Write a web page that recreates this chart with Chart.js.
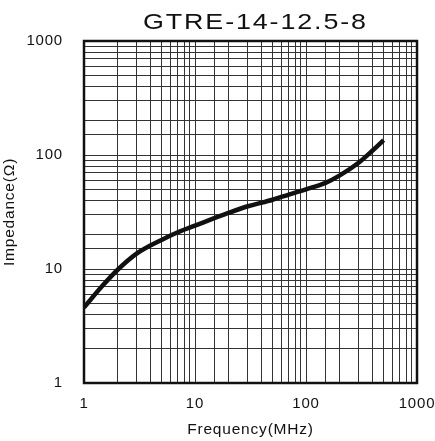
<!DOCTYPE html>
<html>
<head>
<meta charset="utf-8">
<script src="https://cdn.jsdelivr.net/npm/chart.js@4"></script>
<style>
  html, body { margin: 0; padding: 0; background: #fff; }
  #wrap { width: 435px; height: 441px; }
</style>
</head>
<body>
<div id="wrap"><canvas id="impChart"></canvas></div>
<script>
    const frequency = [1, 1.5, 2, 3, 5, 7, 10, 20, 30, 50, 70, 100, 150, 200, 300, 400, 500];
    const impedance = [4.6, 7.3, 9.8, 13.7, 18, 21, 24, 31, 35.5, 40.5, 45, 50, 57, 66, 86, 110, 135];
    const tickLabels = [1, 10, 100, 1000];
    const chartTitle = "GTRE-14-12.5-8";

    const points = frequency.map((f, i) => ({ x: f, y: impedance[i] }));
    const font = "'Liberation Sans', Arial, sans-serif";

    function decadeOnly(value) {
        return tickLabels.includes(Number(value)) ? String(value) : "";
    }

    // frame, wide title and a little letter spacing on the labels
    const frameBox = {
        id: "frameBox",
        beforeDraw(chart) {
            chart.ctx.letterSpacing = "0.8px";
        },
        afterDraw(chart) {
            const a = chart.chartArea;
            const ctx = chart.ctx;
            ctx.save();
            ctx.strokeStyle = "#111";
            ctx.lineWidth = 2.5;
            ctx.strokeRect(a.left, a.top, a.right - a.left, a.bottom - a.top);
            ctx.fillStyle = "#111";
            ctx.font = "21.5px " + font;
            ctx.letterSpacing = "1.5px";
            ctx.textAlign = "left";
            ctx.textBaseline = "alphabetic";
            ctx.translate(143, 29);
            ctx.scale(1.25, 1);
            ctx.fillText(chartTitle, 0, 0);
            ctx.restore();
        },
    };

    const impCtx = document.getElementById("impChart").getContext("2d");
    const impChart = new Chart(impCtx, {
        type: "line",
        data: {
            datasets: [
                {
                    label: chartTitle,
                    data: points,
                    borderColor: "#111",
                    borderWidth: 4.5,
                    pointRadius: 0,
                    fill: false,
                    cubicInterpolationMode: "monotone",
                },
            ],
        },
        options: {
            responsive: true,
            maintainAspectRatio: false,
            animation: false,
            layout: { padding: { left: 0, right: 0, top: 41, bottom: 0 } },
            plugins: {
                legend: { display: false },
                tooltip: { enabled: false },
                title: { display: false },
            },
            scales: {
                x: {
                    type: "logarithmic",
                    min: 1,
                    max: 1000,
                    grid: { color: "#333", lineWidth: 1, drawTicks: false },
                    border: { display: false },
                    ticks: {
                        color: "#111",
                        font: { family: font, size: 15 },
                        padding: 12,
                        autoSkip: false,
                        maxRotation: 0,
                        callback: decadeOnly,
                    },
                    title: {
                        display: true,
                        text: "Frequency(MHz)",
                        color: "#111",
                        font: { family: font, size: 15.5 },
                        padding: { top: 2, bottom: 1.5 },
                    },
                    afterFit(scale) {
                        scale.height = 58;
                        scale.paddingLeft = 0;
                        scale.paddingRight = 18;
                    },
                },
                y: {
                    type: "logarithmic",
                    min: 1,
                    max: 1000,
                    grid: { color: "#333", lineWidth: 1, drawTicks: false },
                    border: { display: false },
                    ticks: {
                        color: "#111",
                        font: { family: font, size: 15 },
                        padding: 21,
                        autoSkip: false,
                        callback: decadeOnly,
                    },
                    title: {
                        display: true,
                        text: "Impedance(Ω)",
                        color: "#111",
                        font: { family: font, size: 15.5 },
                        padding: { top: 0, bottom: 0 },
                    },
                    afterFit(scale) {
                        scale.width = 84;
                        scale.paddingTop = 0;
                        scale.paddingBottom = 0;
                    },
                },
            },
        },
        plugins: [frameBox],
    });
</script>
</body>
</html>
